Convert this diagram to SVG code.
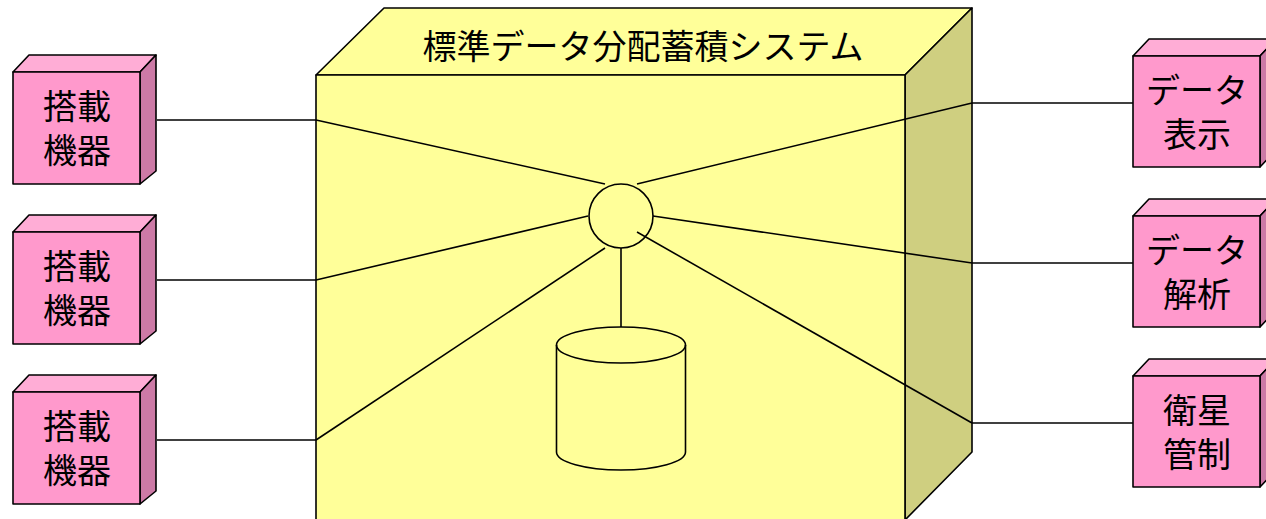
<svg xmlns="http://www.w3.org/2000/svg" width="1266" height="519" viewBox="0 0 1266 519">
<style>
.ln{stroke:#000;stroke-width:1.6;fill:none}
.edge{stroke:#000;stroke-width:1.6;stroke-linejoin:round}
.pf{fill:#FF99CC}.pt{fill:#FFADD6}.ps{fill:#CC7AA6}
.yf{fill:#FFFF99}.ys{fill:#CFCF80}
.t{font-family:"Liberation Sans","Noto Sans CJK JP","Noto Sans CJK SC",sans-serif;font-size:34px;fill:#000;text-anchor:middle}
</style>
<defs>
<g id="lbox">
<polygon class="pt edge" points="0,0 16,-17 143,-17 127,0"/>
<polygon class="ps edge" points="127,0 143,-17 143,99 127,112"/>
<rect class="pf edge" x="0" y="0" width="127" height="112"/>
</g>
<g id="rbox">
<polygon class="pt edge" points="0,0 16,-17 143,-17 127,0"/>
<polygon class="ps edge" points="127,0 143,-17 143,94 127,111"/>
<rect class="pf edge" x="0" y="0" width="127" height="111"/>
</g>
</defs>
<g id="system">
<polygon class="yf edge" points="316,75 384,8 972,8 905,75"/>
<polygon class="ys edge" points="905,75 972,8 972,452 905,520"/>
<rect class="yf edge" x="316" y="75" width="589" height="460"/>
<text class="t" x="643" y="59">標準データ分配蓄積システム</text>
</g>
<g id="hub"><circle class="ln" cx="621" cy="216" r="32" fill="#FFFF99"/></g>
<g id="database">
<path class="ln" d="M556.5,345 V452 A64.5,18 0 0 0 685.5,452 V345"/>
<ellipse class="ln" cx="621" cy="345" rx="64.5" ry="18"/>
</g>
<g id="connectors">
<line class="ln" x1="157" y1="120" x2="316" y2="120"/>
<line class="ln" x1="157" y1="280" x2="316" y2="280"/>
<line class="ln" x1="157" y1="440" x2="316" y2="440"/>
<line class="ln" x1="972" y1="103" x2="1133" y2="103"/>
<line class="ln" x1="972" y1="263" x2="1133" y2="263"/>
<line class="ln" x1="972" y1="423" x2="1133" y2="423"/>
<line class="ln" x1="316" y1="120" x2="605" y2="184"/>
<line class="ln" x1="316" y1="280" x2="588" y2="216"/>
<line class="ln" x1="316" y1="440" x2="605" y2="248"/>
<line class="ln" x1="972" y1="103" x2="637" y2="184"/>
<line class="ln" x1="972" y1="263" x2="653" y2="216"/>
<line class="ln" x1="972" y1="423" x2="637" y2="232"/>
<line class="ln" x1="621" y1="248" x2="621" y2="327"/>
</g>
<g id="device1"><use href="#lbox" x="13" y="72"/><text class="t" x="77" y="119">搭載</text><text class="t" x="77" y="163">機器</text></g>
<g id="device2"><use href="#lbox" x="13" y="232"/><text class="t" x="77" y="279">搭載</text><text class="t" x="77" y="323">機器</text></g>
<g id="device3"><use href="#lbox" x="13" y="392"/><text class="t" x="77" y="439">搭載</text><text class="t" x="77" y="483">機器</text></g>
<g id="display"><use href="#rbox" x="1133" y="56"/><text class="t" x="1197" y="103">データ</text><text class="t" x="1197" y="147">表示</text></g>
<g id="analysis"><use href="#rbox" x="1133" y="216"/><text class="t" x="1197" y="263">データ</text><text class="t" x="1197" y="307">解析</text></g>
<g id="control"><use href="#rbox" x="1133" y="376"/><text class="t" x="1197" y="423">衛星</text><text class="t" x="1197" y="467">管制</text></g>
</svg>
